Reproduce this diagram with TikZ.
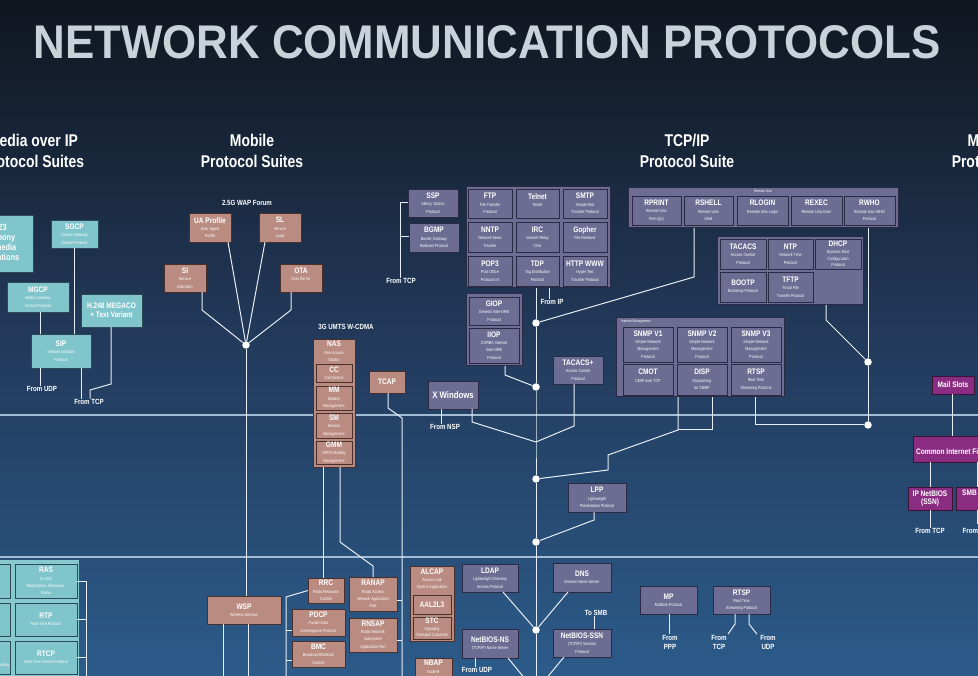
\documentclass[tikz,border=0pt]{standalone}
\usepackage{graphicx}
\usepackage{fontspec}
\setmainfont{Liberation Sans}[FakeStretch=0.82]
\usetikzlibrary{calc}
\definecolor{bgtop}{HTML}{10161F}
\definecolor{bgmid}{HTML}{22395A}
\definecolor{bgbot}{HTML}{2C5B8A}
\definecolor{tealc}{HTML}{7FC5CB}
\definecolor{tealb}{HTML}{2D4B57}
\definecolor{tealpan}{HTML}{86C9CE}
\definecolor{salc}{HTML}{B98B81}
\definecolor{salb}{HTML}{4A302C}
\definecolor{lavc}{HTML}{6D6D94}
\definecolor{lavb}{HTML}{2A2A44}
\definecolor{purc}{HTML}{8A2D82}
\definecolor{purb}{HTML}{3A1236}
\definecolor{linec}{HTML}{E6EDF4}
\definecolor{rulec}{HTML}{A3BCD4}
\definecolor{titlec}{HTML}{C9D1DA}
\newcommand\boxti[1]{{\fontsize{8}{9}\selectfont\bfseries #1}}
\newcommand\boxsu[1]{{\fontsize{4.4}{7.3}\selectfont #1}}
\newcommand\mkbox[7][lavbox]{\node[#1,minimum width={(#5)-(#3)},minimum height={(#6)-(#4)}] (#2) at ({((#3)+(#5))/2},{((#4)+(#6))/2}) {#7};}
\tikzset{
 box/.style={draw, line width=0.9pt, inner sep=0pt, outer sep=0pt, align=center, text=white, font=\fontsize{4.4}{7.3}\selectfont},
 boxtext/.style={text=white, align=center, inner sep=0pt, font=\fontsize{4.4}{7.3}\selectfont},
 tealbox/.style={box, fill=tealc, draw=tealb},
 salbox/.style={box, fill=salc, draw=salb},
 lavbox/.style={box, fill=lavc, draw=lavb},
 lavgrp/.style={box, fill=lavc, draw=lavb, line width=1pt},
 purbox/.style={box, fill=purc, draw=purb},
 conn/.style={draw=linec, line width=1pt},
 hrule/.style={draw=rulec, line width=2pt},
 dotn/.style={circle, fill=white, inner sep=0pt, minimum size=7.5pt},
 lbl/.style={text=white, align=center, inner sep=0.5pt, font=\fontsize{7.5}{9}\selectfont\bfseries},
 tinylbl/.style={text=white, inner sep=0pt, font=\fontsize{3.8}{4}\selectfont},
 headtxt/.style={text=white, align=center, inner sep=0pt, font=\fontsize{17}{21}\selectfont\bfseries},
}
\begin{document}
\begin{tikzpicture}[x=1pt,y=-1pt]
\useasboundingbox (0,0) rectangle (978,676);
\clip (0,0) rectangle (978,676);
\shade[top color=bgtop, bottom color=bgmid] (0,0) rectangle (978,330);
\shade[top color=bgmid, bottom color=bgbot] (0,330) rectangle (978,676);
\draw[hrule] (0,415) -- (978,415);
\draw[hrule] (0,557) -- (978,557);

% title and headings
\node[text=titlec, inner sep=0pt] (title) at (487,42) {\resizebox{907pt}{33pt}{\bfseries NETWORK COMMUNICATION PROTOCOLS}};
\node[headtxt] (hmedia) at (33,150.5) {Media over IP\\Protocol Suites};
\node[headtxt] (hmobile) at (252,150.5) {Mobile\\Protocol Suites};
\node[headtxt] (htcp) at (687,150.5) {TCP/IP\\Protocol Suite};
\node[headtxt] (hms) at (999,150.5) {Microsoft\\Protocol Suite};

% ---------- Media over IP ----------
\mkbox[tealbox]{h323}{-50}{215}{33}{272}{}
\node[boxtext, font=\fontsize{9}{10}\selectfont\bfseries] (h323t) at (-3,243.5) {H.323\\Telephony\\Multimedia\\Applications};
\mkbox[tealbox]{sgcp}{51}{220}{98}{248}{\boxti{SGCP}\\\boxsu{Simple Gateway}\\\boxsu{Control Protocol}}
\mkbox[tealbox]{mgcp}{7}{282}{69}{312}{\boxti{MGCP}\\\boxsu{Media Gateway}\\\boxsu{Control Protocol}}
\mkbox[tealbox]{h248}{81}{294}{142}{327}{\boxti{H.248 MEGACO}\\[2pt]\boxti{+ Text Variant}}
\mkbox[tealbox]{sip}{31}{334}{91}{368}{\boxti{SIP}\\\boxsu{Session Initiation}\\\boxsu{Protocol}}
\node[lbl] (fudp1) at (42,389) {From UDP};
\node[lbl] (ftcp1) at (89,402) {From TCP};
\draw[conn] (mgcp.south -| 40,0) -- (sip.north -| 40,0);
\draw[conn] (sgcp.south -| 74,0) -- (sip.north -| 74,0);
\draw[conn] (sip.south -| 40,0) -- (fudp1.north -| 40,0);
\draw[conn] (sip.south -| 81,0) -- (ftcp1.north -| 81,0);
\draw[conn] (h248.south -| 111,0) -- (111,384) -- (90,390) -- (ftcp1.north -| 90,0);

\fill[tealpan] (-5,560) rectangle (79,680);
\mkbox[tealbox]{lc1}{-40}{564}{10}{598}{}
\mkbox[tealbox]{lc2}{-40}{603}{10}{636}{}
\mkbox[tealbox]{lc3}{-40}{641}{10}{674}{}
\node[boxtext, anchor=east] (lc3t) at (9,665) {\boxsu{Signaling}};
\mkbox[tealbox]{ras}{15}{564}{77}{598}{\boxti{RAS}\\\boxsu{(H.225)}\\\boxsu{Registration, Admission,}\\\boxsu{Status}}
\mkbox[tealbox]{rtp}{15}{603}{77}{636}{\boxti{RTP}\\\boxsu{Real Time Protocol}}
\mkbox[tealbox]{rtcp}{15}{641}{77}{674}{\boxti{RTCP}\\\boxsu{Real Time Control Protocol}}
\coordinate (brk) at (86,680);
\draw[conn] (ras.east) -| (brk);
\draw[conn] (rtp.east) -- (rtp.east -| brk);
\draw[conn] (rtcp.east) -- (rtcp.east -| brk);

% ---------- Mobile ----------
\node[lbl] (wap) at (247,203) {2.5G WAP Forum};
\mkbox[salbox]{ua}{189}{213}{231}{242}{\boxti{UA Profile}\\\boxsu{User Agent}\\\boxsu{Profile}}
\mkbox[salbox]{sl}{259}{213}{301}{242}{\boxti{SL}\\\boxsu{Service}\\\boxsu{Load}}
\mkbox[salbox]{si}{164}{264}{206}{292}{\boxti{SI}\\\boxsu{Service}\\\boxsu{Indication}}
\mkbox[salbox]{ota}{280}{264}{322}{292}{\boxti{OTA}\\\boxsu{Over the Air}\\\boxsu{\phantom{X}}}
\node[dotn] (md) at (246,345) {};
\mkbox[salbox]{wsp}{207}{596}{281}{624}{\boxti{WSP}\\\boxsu{Wireless Session}}
\draw[conn] (ua.south -| 228,0) -- (md);
\draw[conn] (sl.south -| 265,0) -- (md);
\draw[conn] (si.south -| 202,0) -- (202,310) -- (md);
\draw[conn] (ota.south -| 291,0) -- (291,310) -- (md);
\draw[conn] (md) -- (wsp.north -| md);
\coordinate (wspe1) at (223,680);
\coordinate (wspe2) at (248,680);
\draw[conn] (wsp.south -| wspe1) -- (wspe1);
\draw[conn] (wsp.south -| wspe2) -- (wspe2);

\node[lbl] (umts) at (346,327) {3G UMTS W-CDMA};
\mkbox[salbox]{nas}{313}{339}{355}{467}{}
\node[boxtext, anchor=north] (nast) at (334,341) {\boxti{NAS}\\\boxsu{Non Access}\\\boxsu{Station}};
\mkbox[salbox]{cc}{316}{364}{352}{382}{\boxti{CC}\\\boxsu{Call Control}}
\mkbox[salbox]{mm}{316}{386}{352}{410}{\boxti{MM}\\\boxsu{Mobility}\\\boxsu{Management}}
\mkbox[salbox]{sm}{316}{413}{352}{438}{\boxti{SM}\\\boxsu{Session}\\\boxsu{Management}}
\mkbox[salbox]{gmm}{316}{441}{352}{464}{\boxti{GMM}\\\boxsu{GPRS Mobility}\\\boxsu{Management}}
\mkbox[salbox]{tcap}{369}{371}{405}{393}{\boxti{TCAP}}
\coordinate (tcapend) at (402,680);
\draw[conn] (tcap.south -| 388,0) -- (388,408) -- (402,418) -- (tcapend);

\mkbox[salbox]{rrc}{308}{578}{344}{603}{\boxti{RRC}\\\boxsu{Radio Resource}\\\boxsu{Control}}
\mkbox[salbox]{ranap}{349}{577}{397}{611}{\boxti{RANAP}\\\boxsu{Radio Access}\\\boxsu{Network Application}\\\boxsu{Part}}
\mkbox[salbox]{pdcp}{292}{609}{345}{636}{\boxti{PDCP}\\\boxsu{Packet Data}\\\boxsu{Convergence Protocol}}
\mkbox[salbox]{bmc}{292}{641}{345}{667}{\boxti{BMC}\\\boxsu{Broadcast/Multicast}\\\boxsu{Control}}
\mkbox[salbox]{rnsap}{349}{618}{397}{652}{\boxti{RNSAP}\\\boxsu{Radio Network}\\\boxsu{Subsystem}\\\boxsu{Application Part}}
\draw[conn] (nas.south -| 323,0) -- (rrc.north -| 323,0);
\draw[conn] (nas.south -| 340,0) -- (340,542) -- (373,566) -- (ranap.north -| 373,0);
\coordinate (rrcend) at (286,680);
\draw[conn] (rrc.west) -- (286,597) -- (rrcend);
\draw[conn] (pdcp.west |- 0,630) -- (286,630);
\draw[conn] (bmc.west |- 0,660) -- (286,660);
\draw[conn] (ranap.east |- 0,600) -- (402,600);
\draw[conn] (rnsap.east |- 0,640) -- (402,640);

\mkbox[salbox]{alcap}{410}{566}{454}{641}{}
\node[boxtext, anchor=north] (alcapt) at (432,568.5) {\boxti{ALCAP}\\\boxsu{Access Link}\\\boxsu{Control Application}};
\mkbox[salbox]{aal}{413}{595}{451}{614}{\boxti{AAL2L3}}
\mkbox[salbox]{stc}{413}{617}{451}{639}{\boxti{STC}\\[-0.8pt]\boxsu{Signaling}\\[-0.8pt]\boxsu{Transport Converter}}
\mkbox[salbox]{nbap}{415}{658}{452}{700}{}
\node[boxtext, anchor=north] (nbapt) at (433.5,660) {\boxti{NBAP}\\\boxsu{Node-B}};

% ---------- TCP/IP ----------
\mkbox[lavbox]{ssp}{408}{189}{458}{217}{\boxti{SSP}\\\boxsu{Skinny Station}\\\boxsu{Protocol}}
\mkbox[lavbox]{bgmp}{409}{223}{459}{252}{\boxti{BGMP}\\\boxsu{Border Gateway}\\\boxsu{Multicast Protocol}}
\node[lbl] (ftcp2) at (401,281) {From TCP};
\draw[conn] (ssp.west |- 0,203) -| (ftcp2.north -| 400.5,0);
\draw[conn] (bgmp.west |- 0,237) -- (400.5,237);

\mkbox[lavgrp]{tcpg}{466}{187}{610}{288}{}
\mkbox[lavbox]{ftp}{468}{189}{512}{218}{\boxti{FTP}\\\boxsu{File Transfer}\\\boxsu{Protocol}}
\mkbox[lavbox]{telnet}{516}{189}{559}{218}{\boxti{Telnet}\\\boxsu{Telnet}\\\boxsu{\phantom{X}}}
\mkbox[lavbox]{smtp}{563}{189}{607}{218}{\boxti{SMTP}\\\boxsu{Simple Mail}\\\boxsu{Transfer Protocol}}
\mkbox[lavbox]{nntp}{468}{222}{512}{252}{\boxti{NNTP}\\\boxsu{Network News}\\\boxsu{Transfer}}
\mkbox[lavbox]{irc}{516}{222}{559}{252}{\boxti{IRC}\\\boxsu{Internet Relay}\\\boxsu{Chat}}
\mkbox[lavbox]{gopher}{563}{222}{607}{252}{\boxti{Gopher}\\\boxsu{File Retrieval}\\\boxsu{\phantom{X}}}
\mkbox[lavbox]{pop}{468}{256}{512}{286}{\boxti{POP3}\\\boxsu{Post Office}\\\boxsu{Protocol v3}}
\mkbox[lavbox]{tdp}{516}{256}{559}{286}{\boxti{TDP}\\\boxsu{Tag Distribution}\\\boxsu{Protocol}}
\mkbox[lavbox]{http}{563}{256}{607}{286}{\boxti{HTTP WWW}\\\boxsu{Hyper Text}\\\boxsu{Transfer Protocol}}
\node[lbl] (fip) at (552,302) {From IP};
\draw[conn] (tcpg.south -| 549,0) -- (fip.north -| 549,0);

\node[dotn] (t1) at (536,323) {};
\node[dotn] (t2) at (536,387) {};
\coordinate (tj) at (536,442);
\node[dotn] (t3) at (536,479) {};
\node[dotn] (t4) at (536,542) {};
\node[dotn] (t5) at (536,630) {};
\coordinate (tend) at (536,680);
\draw[conn] (tcpg.south -| t1) -- (t1) -- (t2) -- (tj) -- (t3) -- (t4) -- (t5) -- (tend);

\mkbox[lavgrp]{giopg}{466}{294}{522}{366}{}
\mkbox[lavbox]{giop}{469}{297}{519}{325}{\boxti{GIOP}\\\boxsu{General Inter-ORB}\\\boxsu{Protocol}}
\mkbox[lavbox]{iiop}{469}{328}{519}{363}{\boxti{IIOP}\\\boxsu{CORBA Internet}\\\boxsu{Inter-ORB}\\\boxsu{Protocol}}
\draw[conn] (giopg.south -| 505,0) -- (505,375) -- (t2);
\mkbox[lavbox]{tacp}{553}{356}{603}{384}{\boxti{TACACS+}\\\boxsu{Access Control}\\\boxsu{Protocol}}
\draw[conn] (tacp.south -| 574,0) -- (574,426) -- (tj);
\mkbox[lavbox]{xwin}{428}{381}{478}{409}{\fontsize{9.5}{10}\selectfont\bfseries X Windows}
\node[lbl] (fnsp) at (445,427) {From NSP};
\draw[conn] (xwin.south -| 441,0) -- (fnsp.north -| 441,0);
\draw[conn] (xwin.south -| 472,0) -- (472,422) -- (tj);

\mkbox[lavgrp]{rug}{628}{188}{898}{228}{}
\node[tinylbl] (rul) at (763,191.5) {Remote Unix};
\mkbox[lavbox]{rprint}{632}{196}{681}{225}{\boxti{RPRINT}\\\boxsu{Remote Unix}\\\boxsu{Print (lpr)}}
\mkbox[lavbox]{rshell}{684}{196}{733}{225}{\boxti{RSHELL}\\\boxsu{Remote Unix}\\\boxsu{Shell}}
\mkbox[lavbox]{rlogin}{737}{196}{788}{225}{\boxti{RLOGIN}\\\boxsu{Remote Unix Login}\\\boxsu{\phantom{X}}}
\mkbox[lavbox]{rexec}{791}{196}{842}{225}{\boxti{REXEC}\\\boxsu{Remote Unix Exec}\\\boxsu{\phantom{X}}}
\mkbox[lavbox]{rwho}{844}{196}{895}{225}{\boxti{RWHO}\\\boxsu{Remote Unix WHO}\\\boxsu{Protocol}}
\draw[conn] (rug.south -| 694,0) -- (694,277) -- (t1);

\mkbox[lavgrp]{tacg}{717}{237}{863}{305}{}
\mkbox[lavbox]{tacacs}{720}{239}{766}{269}{\boxti{TACACS}\\\boxsu{Access Control}\\\boxsu{Protocol}}
\mkbox[lavbox]{ntp}{768}{239}{813}{269}{\boxti{NTP}\\\boxsu{Network Time}\\\boxsu{Protocol}}
\mkbox[lavbox]{dhcp}{815}{239}{861}{269}{\boxti{DHCP}\\[-0.6pt]\boxsu{Dynamic Host}\\[-0.6pt]\boxsu{Configuration}\\[-0.6pt]\boxsu{Protocol}}
\mkbox[lavbox]{bootp}{720}{272}{766}{302}{\boxti{BOOTP}\\\boxsu{Bootstrap Protocol}}
\mkbox[lavbox]{tftp}{768}{272}{813}{302}{\boxti{TFTP}\\\boxsu{Trivial File}\\\boxsu{Transfer Protocol}}

\node[dotn] (r1) at (868,362) {};
\node[dotn] (r2) at (868,425) {};
\draw[conn] (rug.south -| r1) -- (r1) -- (r2);
\draw[conn] (tacg.south -| 826,0) -- (826,320) -- (r1);

\mkbox[lavgrp]{img}{616}{318}{784}{397}{}
\node[tinylbl, anchor=west] (iml) at (621,322) {Internet Management};
\mkbox[lavbox]{snmp1}{623}{327}{673}{362}{\boxti{SNMP V1}\\\boxsu{Simple Network}\\\boxsu{Management}\\\boxsu{Protocol}}
\mkbox[lavbox]{snmp2}{677}{327}{727}{362}{\boxti{SNMP V2}\\\boxsu{Simple Network}\\\boxsu{Management}\\\boxsu{Protocol}}
\mkbox[lavbox]{snmp3}{731}{327}{781}{362}{\boxti{SNMP V3}\\\boxsu{Simple Network}\\\boxsu{Management}\\\boxsu{Protocol}}
\mkbox[lavbox]{cmot}{623}{364}{673}{395}{\boxti{CMOT}\\\boxsu{CMIP over TCP}\\\boxsu{\phantom{X}}}
\mkbox[lavbox]{disp}{677}{364}{727}{395}{\boxti{DISP}\\\boxsu{Dispatching}\\\boxsu{for SNMP}}
\mkbox[lavbox]{rtspa}{731}{364}{781}{395}{\boxti{RTSP}\\\boxsu{Real Time}\\\boxsu{Streaming Protocol}}
\draw[conn] (img.south -| 755,0) -- (755,425) -- (r2);
\draw[conn] (img.south -| 678,0) -- (678,430) -- (608,455) -- (608,470) -- (t3);
\draw[conn] (img.south -| 712,0) -- (712,430) -- (678,430);

\mkbox[lavbox]{lpp}{568}{483}{626}{512}{\boxti{LPP}\\\boxsu{Lightweight}\\\boxsu{Presentation Protocol}}
\draw[conn] (lpp.south -| 594,0) -- (594,520) -- (t4);

\mkbox[lavbox]{dns}{553}{563}{611}{592}{\boxti{DNS}\\\boxsu{Domain Name Server}}
\draw[conn] (dns.south -| 568,0) -- (t5);
\mkbox[lavbox]{ldap}{462}{564}{518}{592}{\boxti{LDAP}\\\boxsu{Lightweight Directory}\\\boxsu{Access Protocol}}
\draw[conn] (ldap.south -| 503,0) -- (t5);
\mkbox[lavbox]{nbssn}{553}{629}{611}{657}{\boxti{NetBIOS-SSN}\\\boxsu{(TCP/IP) Session}\\\boxsu{Protocol}}
\node[lbl] (tsmb) at (596,613) {To SMB};
\draw[conn] (nbssn.north -| 594,0) -- (tsmb.south -| 594,0);
\coordinate (nbssne) at (545,680);
\draw[conn] (nbssn.south -| 564,0) -- (nbssne);
\mkbox[lavbox]{nbns}{462}{629}{518}{658}{\boxti{NetBIOS-NS}\\\boxsu{(TCP/IP) Name Server}}
\node[lbl] (fudp2) at (477,670) {From UDP};
\draw[conn] (nbns.south -| 475,0) -- (fudp2.north -| 475,0);
\coordinate (nbnse) at (526,680);
\draw[conn] (nbns.south -| 508,0) -- (nbnse);

\mkbox[lavbox]{mp}{640}{586}{697}{614}{\boxti{MP}\\\boxsu{Multilink Protocol}}
\node[lbl] (fppp) at (670,642) {From\\PPP};
\draw[conn] (mp.south -| 669,0) -- (fppp.north -| 669,0);
\mkbox[lavbox]{rtspb}{713}{586}{770}{614}{\boxti{RTSP}\\\boxsu{Real Time}\\\boxsu{Streaming Protocol}}
\node[lbl] (ftcp3) at (719,642) {From\\TCP};
\node[lbl] (fudp3) at (768,642) {From\\UDP};
\draw[conn] (rtspb.south -| 735,0) -- (735,624) -- (ftcp3.north -| 728,0);
\draw[conn] (rtspb.south -| 749,0) -- (749,624) -- (fudp3.north -| 757,0);

% ---------- Microsoft ----------
\mkbox[purbox]{mails}{932}{376}{974}{394}{\boxti{Mail Slots}}
\mkbox[purbox]{cifs}{913}{436}{1060}{462}{}
\node[boxtext, anchor=west] (cifst) at (916,452) {\boxti{Common Internet File System}};
\mkbox[purbox]{ipnb}{908}{487}{952}{510}{\boxti{IP NetBIOS}\\\boxti{(SSN)}}
\mkbox[purbox]{smb}{956}{487}{1060}{510}{}
\node[boxtext, anchor=west] (smbt) at (962,493) {\boxti{SMB}};
\node[lbl] (ftcp4) at (930,531) {From TCP};
\node[lbl, anchor=west] (ftcp5) at (962,531) {From TCP};
\draw[conn] (mails.south -| 952,0) -- (cifs.north -| 952,0);
\draw[conn] (cifs.south -| 930,0) -- (ipnb.north -| 930,0);
\draw[conn] (ipnb.south -| 930,0) -- (ftcp4.north -| 930,0);
\draw[conn] (cifs.south -| 977,0) -- (smb.north -| 977,0);
\draw[conn] (smb.south -| 977,0) -- (977,524);
\end{tikzpicture}
\end{document}
